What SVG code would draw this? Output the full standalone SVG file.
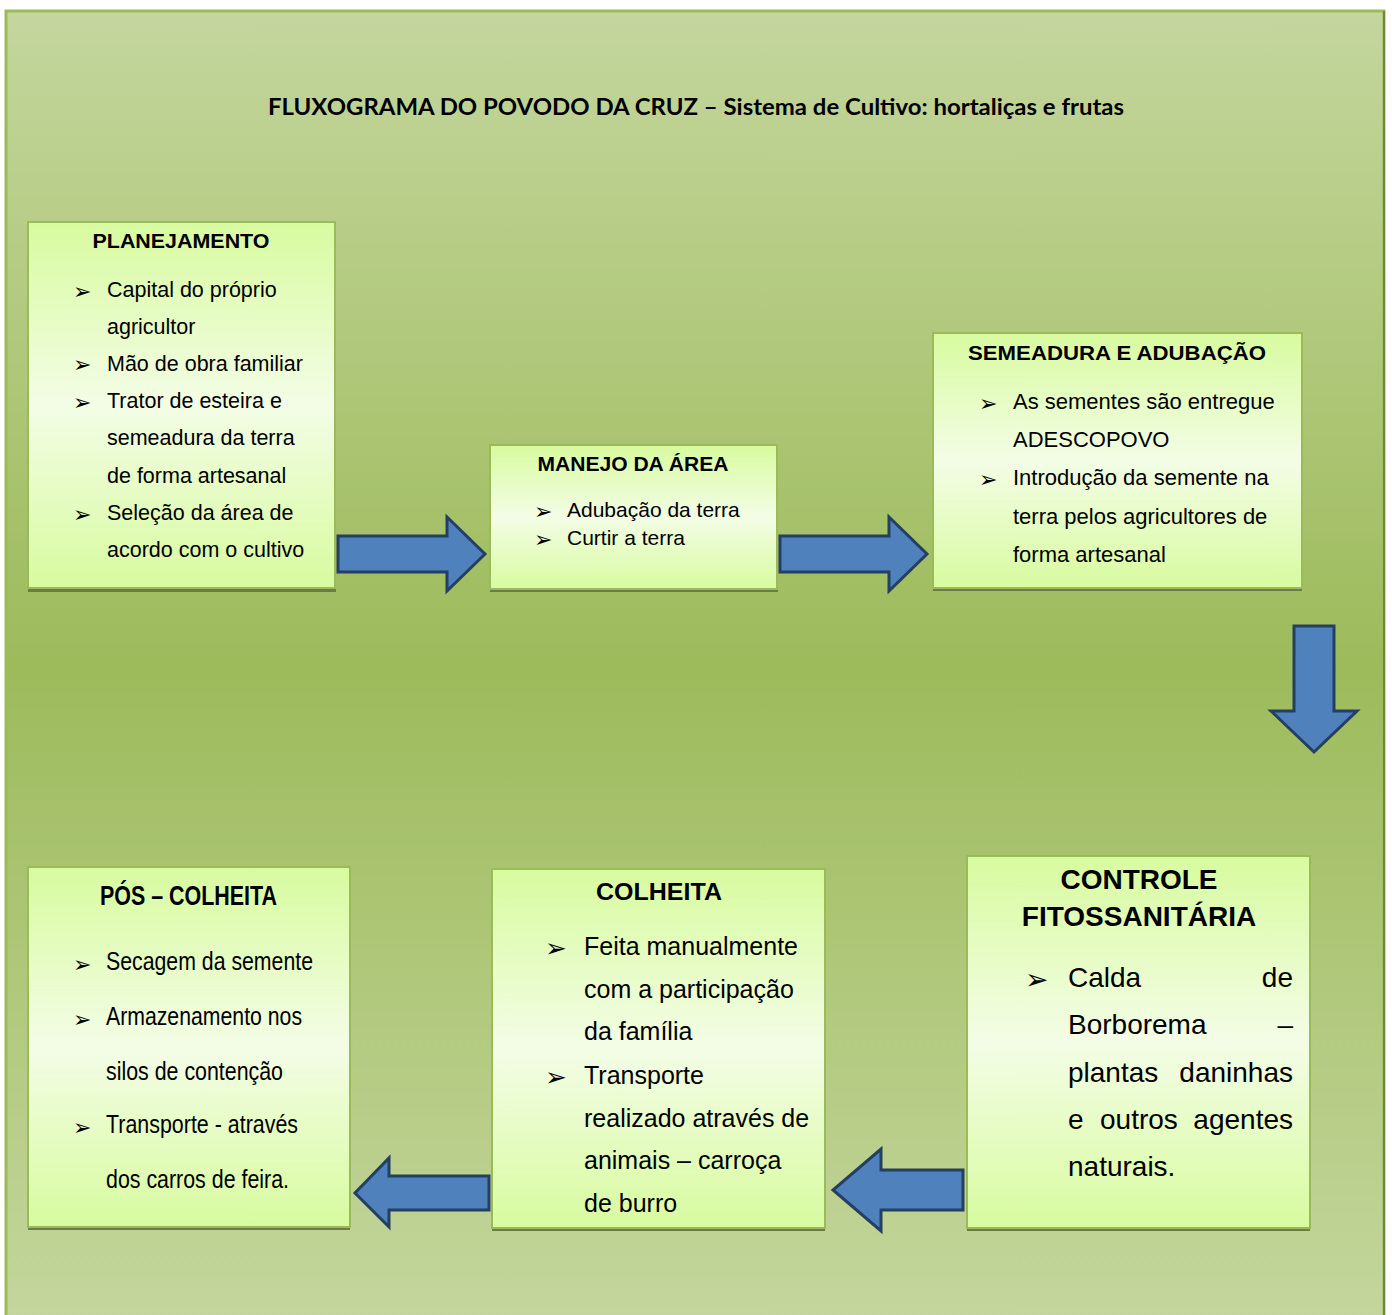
<svg xmlns="http://www.w3.org/2000/svg" width="1392" height="1315" viewBox="0 0 1392 1315">
<defs>
<linearGradient id="bg" x1="0" y1="0" x2="0" y2="1">
<stop offset="0" stop-color="#c4d69d"/>
<stop offset="0.5" stop-color="#9dbb5b"/>
<stop offset="1" stop-color="#c4d69d"/>
</linearGradient>
<linearGradient id="boxg" x1="0" y1="0" x2="0" y2="1">
<stop offset="0" stop-color="#d8fb9f"/>
<stop offset="0.5" stop-color="#f3fde6"/>
<stop offset="1" stop-color="#d8fb9f"/>
</linearGradient>
<style>
.box{fill:url(#boxg);stroke:#9bbb59;stroke-width:2}
.shadow{fill:#6b7c48}
.arrow{fill:#4f81bd;stroke:#243f60;stroke-width:3;stroke-linejoin:miter}
.h{font-family:"Liberation Sans",Arial,sans-serif;font-weight:bold;fill:#000}
.t{font-family:"Liberation Sans",Arial,sans-serif;fill:#000}
.n{font-family:"Liberation Sans Narrow","Arial Narrow","Liberation Sans",sans-serif;fill:#000}
.b{font-family:"DejaVu Sans",sans-serif;fill:#000}
</style>
</defs>

<rect x="6" y="11" width="1378" height="1312" fill="url(#bg)" stroke="#9bbb59" stroke-width="3"/>
<line x1="1384" y1="11" x2="1384" y2="1315" stroke="#6a8a35" stroke-width="2"/>

<text x="268" y="115" font-family="Lato,'Open Sans',sans-serif" font-weight="bold" font-size="22" textLength="856" lengthAdjust="spacingAndGlyphs" fill="#000">FLUXOGRAMA DO POVODO DA CRUZ – Sistema de Cultivo: hortaliças e frutas</text>

<g id="connectors">
<polygon class="arrow" points="338,536 447,536 447,517 485,554 447,591 447,572 338,572"/>
<polygon class="arrow" points="780,536 889,536 889,517 927,554 889,591 889,572 780,572"/>
<polygon class="arrow" points="1294,626 1334,626 1334,711 1357,711 1314,752 1271,711 1294,711"/>
<polygon class="arrow" points="963,1170 881,1170 881,1149 833,1190 881,1231 881,1210 963,1210"/>
<polygon class="arrow" points="489,1176 389,1176 389,1158 355,1193 389,1227 389,1210 489,1210"/>
</g>

<g id="planejamento">
<rect class="shadow" x="28" y="225" width="308" height="367"/>
<rect class="box" x="28" y="222" width="307" height="366"/>
<text class="h" x="181" y="248" font-size="20" text-anchor="middle" textLength="177" lengthAdjust="spacingAndGlyphs">PLANEJAMENTO</text>
<g class="b" font-size="22">
<text x="73" y="299">➢</text>
<text x="73" y="372">➢</text>
<text x="73" y="410">➢</text>
<text x="73" y="522">➢</text>
</g>
<g class="t" font-size="21.5">
<text x="107" y="297">Capital do próprio</text>
<text x="107" y="334">agricultor</text>
<text x="107" y="371">Mão de obra familiar</text>
<text x="107" y="408">Trator de esteira e</text>
<text x="107" y="445">semeadura da terra</text>
<text x="107" y="483">de forma artesanal</text>
<text x="107" y="520">Seleção da área de</text>
<text x="107" y="557">acordo com o cultivo</text>
</g>
</g>

<g id="manejo">
<rect class="shadow" x="490" y="448" width="288" height="144"/>
<rect class="box" x="490" y="445" width="287" height="144"/>
<text class="h" x="633" y="471" font-size="20" text-anchor="middle" textLength="191" lengthAdjust="spacingAndGlyphs">MANEJO DA ÁREA</text>
<g class="b" font-size="22">
<text x="534" y="519">➢</text>
<text x="534" y="547">➢</text>
</g>
<g class="t" font-size="21">
<text x="567" y="517">Adubação da terra</text>
<text x="567" y="545">Curtir a terra</text>
</g>
</g>

<g id="semeadura">
<rect class="shadow" x="933" y="336" width="369" height="255"/>
<rect class="box" x="933" y="333" width="369" height="255"/>
<text class="h" x="1117" y="360" font-size="20" text-anchor="middle" textLength="298" lengthAdjust="spacingAndGlyphs">SEMEADURA E ADUBAÇÃO</text>
<g class="b" font-size="22">
<text x="979" y="411">➢</text>
<text x="979" y="487">➢</text>
</g>
<g class="t" font-size="22">
<text x="1013" y="409">As sementes são entregue</text>
<text x="1013" y="447">ADESCOPOVO</text>
<text x="1013" y="485">Introdução da semente na</text>
<text x="1013" y="524">terra pelos agricultores de</text>
<text x="1013" y="562">forma artesanal</text>
</g>
</g>

<g id="controle">
<rect class="shadow" x="967" y="859" width="343" height="372"/>
<rect class="box" x="967" y="856" width="343" height="372"/>
<text class="h" x="1139" y="889" font-size="28" text-anchor="middle">CONTROLE</text>
<text class="h" x="1139" y="926" font-size="28" text-anchor="middle">FITOSSANITÁRIA</text>
<text class="b" x="1025" y="989" font-size="28">➢</text>
<g class="t" font-size="28">
<text x="1068" y="987">Calda</text>
<text x="1293" y="987" text-anchor="end">de</text>
<text x="1068" y="1034">Borborema</text>
<text x="1293" y="1034" text-anchor="end">–</text>
<text x="1068" y="1082">plantas</text>
<text x="1293" y="1082" text-anchor="end">daninhas</text>
<text x="1068" y="1129">e</text>
<text x="1100" y="1129">outros</text>
<text x="1293" y="1129" text-anchor="end">agentes</text>
<text x="1068" y="1176">naturais.</text>
</g>
</g>

<g id="colheita">
<rect class="shadow" x="492" y="872" width="333" height="359"/>
<rect class="box" x="492" y="869" width="333" height="359"/>
<text class="h" x="659" y="900" font-size="24" text-anchor="middle" textLength="126" lengthAdjust="spacingAndGlyphs">COLHEITA</text>
<g class="b" font-size="26">
<text x="545" y="957">➢</text>
<text x="545" y="1086">➢</text>
</g>
<g class="t" font-size="25">
<text x="584" y="955">Feita manualmente</text>
<text x="584" y="998">com a participação</text>
<text x="584" y="1040">da família</text>
<text x="584" y="1084">Transporte</text>
<text x="584" y="1127">realizado através de</text>
<text x="584" y="1169">animais – carroça</text>
<text x="584" y="1212">de burro</text>
</g>
</g>

<g id="pos-colheita">
<rect class="shadow" x="28" y="870" width="322" height="360"/>
<rect class="box" x="28" y="867" width="322" height="360"/>
<text class="n" x="100" y="905" font-size="27" font-weight="bold" textLength="177" lengthAdjust="spacingAndGlyphs">PÓS – COLHEITA</text>
<g class="b" font-size="22">
<text x="73" y="972">➢</text>
<text x="73" y="1027">➢</text>
<text x="73" y="1135">➢</text>
</g>
<g class="n" font-size="26">
<text x="106" y="970" textLength="207" lengthAdjust="spacingAndGlyphs">Secagem da semente</text>
<text x="106" y="1025" textLength="196" lengthAdjust="spacingAndGlyphs">Armazenamento nos</text>
<text x="106" y="1080" textLength="177" lengthAdjust="spacingAndGlyphs">silos de contenção</text>
<text x="106" y="1133" textLength="192" lengthAdjust="spacingAndGlyphs">Transporte - através</text>
<text x="106" y="1188" textLength="183" lengthAdjust="spacingAndGlyphs">dos carros de feira.</text>
</g>
</g>
</svg>
